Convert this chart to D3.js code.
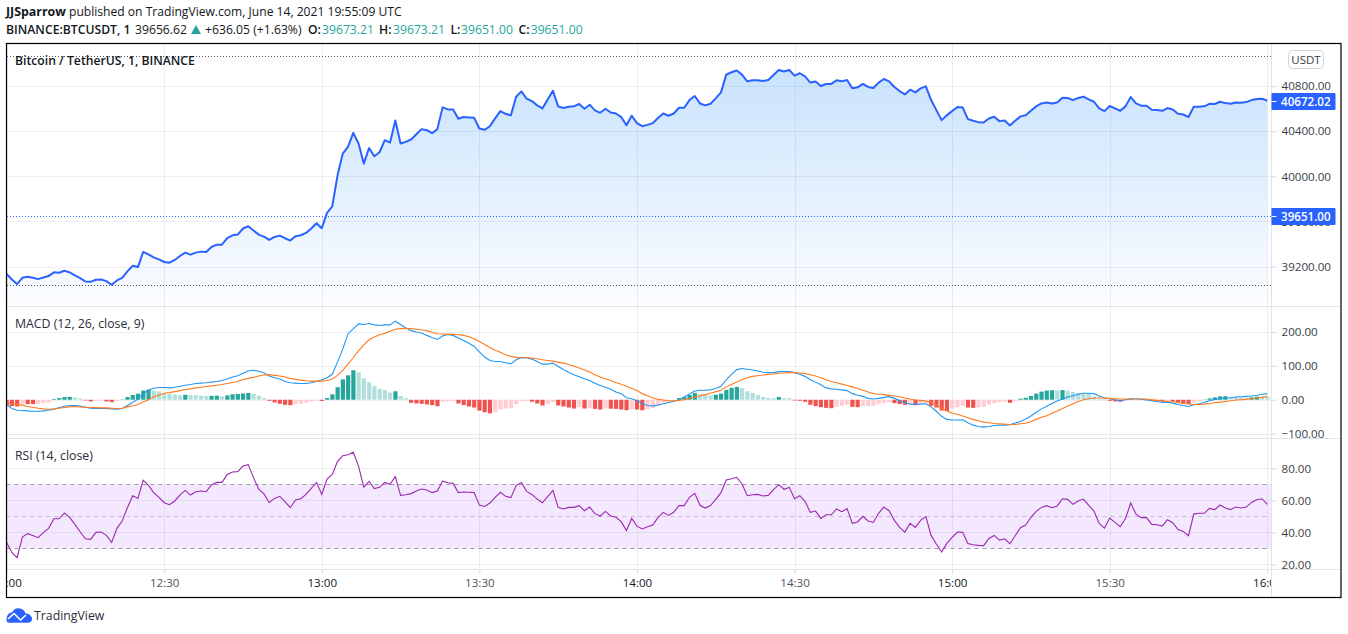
<!DOCTYPE html>
<meta charset="utf-8">
<style>
body { margin:0; background:white; font-family:"Open Sans",sans-serif; overflow:hidden; }
svg { display:block; }
text { font-family:"Open Sans",sans-serif; }
.tick text { fill:#3a3d46; font-size:11.6px; }
</style>
<script src="https://d3js.org/d3.v7.min.js"></script>
<div id="chart"></div>
<script>

// values, one per minute from 12:00 to 16:00
var price = [39133,39085,39044,39100,39109,39100,39088,39103,39115,39148,39145,39162,39148,39121,39097,39067,39064,39082,39085,39070,
39038,39076,39100,39157,39207,39195,39329,39308,39281,39263,39240,39234,39258,39293,39323,39305,39323,39332,39329,39373,
39394,39394,39451,39477,39483,39537,39557,39519,39483,39465,39436,39462,39474,39451,39430,39468,39477,39498,39537,39584,
39540,39676,39733,40009,40202,40264,40386,40291,40113,40252,40178,40214,40321,40300,40496,40291,40306,40327,40374,40419,
40410,40383,40419,40612,40594,40594,40511,40526,40523,40520,40425,40413,40445,40514,40579,40555,40541,40707,40754,40689,
40668,40630,40603,40683,40760,40621,40606,40618,40621,40642,40600,40636,40585,40564,40600,40567,40558,40526,40454,40538,
40472,40445,40457,40472,40517,40558,40538,40558,40609,40609,40677,40713,40647,40630,40644,40692,40745,40903,40924,40939,
40903,40843,40852,40852,40846,40855,40900,40944,40930,40944,40894,40915,40888,40832,40841,40802,40820,40820,40852,40843,
40855,40781,40790,40820,40793,40784,40832,40864,40843,40793,40757,40727,40769,40745,40781,40799,40677,40588,40499,40543,
40579,40615,40612,40508,40493,40481,40478,40514,40529,40490,40496,40451,40493,40532,40543,40582,40621,40647,40656,40647,
40656,40698,40695,40677,40695,40707,40683,40662,40603,40579,40624,40603,40582,40621,40704,40647,40627,40627,40591,40588,
40582,40606,40594,40555,40549,40526,40618,40618,40621,40644,40642,40662,40650,40644,40656,40653,40659,40677,40686,40689,
40672];

var macdLine = [-13,-26,-31,-32,-33,-34,-34,-33,-31,-28,-23,-19,-17,-17,-19,-22,-25,-26,-26,-26,
-27,-28,-26,-17,-8,2,18,28,34,36,36,35,37,40,43,45,48,49,50,52,
54,57,61,67,71,78,85,87,84,79,70,65,61,54,50,49,48,48,50,54,
59,65,75,111,150,195,209,224,222,225,221,219,221,221,232,222,212,204,200,197,
190,184,178,188,193,190,182,175,167,158,141,126,116,113,113,109,106,118,125,124,
120,113,105,105,108,98,89,81,74,68,62,57,49,42,37,31,23,18,6,3,
-3,-11,-17,-18,-16,-12,-8,-5,0,8,17,26,28,28,29,33,40,59,75,89,
92,90,88,85,81,80,80,83,83,83,80,75,69,59,52,44,35,32,31,29,
27,18,13,10,4,2,4,7,9,4,-2,-9,-13,-14,-13,-12,-21,-34,-49,-58,
-60,-60,-59,-68,-75,-79,-81,-79,-76,-75,-75,-74,-69,-64,-57,-48,-37,-27,-19,-11,
-4,2,8,12,16,19,19,18,11,5,3,0,-3,0,3,3,1,0,-3,-5,
-8,-7,-10,-14,-17,-20,-15,-12,-8,-3,1,3,5,6,8,9,10,11,13,16,
18];

var signalLine = [-9,-12,-14,-16,-20,-22,-25,-27,-28,-27,-25,-23,-21,-20,-21,-22,-23,-23,-24,-24,
-25,-26,-25,-21,-18,-14,-7,0,8,14,19,21,24,27,30,32,35,37,39,41,
43,45,48,51,54,60,63,66,70,73,74,72,70,67,63,60,58,56,55,55,
55,57,61,72,87,106,124,144,162,177,185,192,196,202,208,210,211,210,208,206,
204,199,195,194,193,193,192,190,186,180,172,163,154,146,140,133,128,125,124,124,
123,121,118,116,114,111,108,104,99,94,88,82,74,67,62,57,51,46,40,33,
27,18,12,5,1,-1,-3,-3,-2,0,3,8,12,15,19,24,28,38,45,52,
60,65,69,71,73,75,76,78,79,80,80,79,77,74,70,65,59,54,50,46,
42,38,33,28,23,18,16,15,13,11,9,5,2,-1,-2,-4,-9,-16,-26,-33,
-40,-43,-48,-53,-58,-62,-66,-68,-70,-71,-72,-73,-73,-71,-69,-65,-58,-52,-47,-40,
-33,-26,-19,-12,-5,0,3,5,5,5,4,3,2,2,2,2,2,2,0,-2,
-3,-5,-6,-8,-11,-12,-14,-14,-13,-11,-9,-7,-5,-3,-1,0,1,3,5,7,
10];

var histogram = [-18,-19,-20,-13,-13,-13,-12,-10,-8,2,5,8,8.5,7,4,-2,-5,-3,-2.5,-5,
-7,-3,1,8,14,18,27,30,27,25,20,17,15,13.5,14.5,14,13,12,11,11.5,
12,10,13,16,17,18.5,20,17,12,5,-3,-8,-12,-15,-16,-13,-12,-9,-6,-3,
-3.5,5,16,37,60,72,87,81,63,52,40,32,29,21,25,11,5,-9,-11,-12,
-14,-16,-19,-6,-5,-4,-11,-16,-20,-23,-32,-37,-40,-37,-28,-26,-25,-13,-5,-4,
-6,-11,-17,-12,-7,-17,-20,-23,-26,-22,-26,-25,-27,-29,-26,-26.5,-27,-29,-31,-28,
-29,-31,-28,-24,-16,-9,-5,-1.5,5,8,14,20,16,15,13,15,18,29,35,38,
35,25,20,14,8,5,4.5,8,5,4.5,-2,-3,-6,-15,-19,-22,-24,-25,-21,-18,
-15,-21,-22,-19,-18.5,-18,-13,-10,-8,-10,-13,-15,-13,-16,-12,-11,-18,-23,-32,-33,
-26,-22,-18,-23,-24,-23,-21,-14,-10,-7,-6.5,-9,-5,3,6,11,18,24,27,28,
27.5,28.5,27,23,20,19,18,10,3,-1,-3,-5,-6,-3,2,1,0.5,-2,-4,-5,
-5.5,-4,-4.5,-8,-10,-13,-9,-4,1,4,7,10,10.5,8,7.5,7,6,7,9,8.5,
8];

var rsi = [33.7,27.5,24.2,37.1,39.2,38.1,36.7,39.8,42.5,48.5,48.5,52.1,49.4,45,40.4,36,35.6,40,40.2,38.1,
33.7,42.5,47.1,55.4,62.9,61.2,72.5,69.4,64.8,61.9,58.5,57.3,59.6,63.3,66.2,63.3,65.4,65.8,65.4,69.6,
71.2,71.2,76.2,77.7,77.9,81.4,82.3,74.2,66.9,64,58.7,61.2,62.5,59.2,55.4,60.2,61,63.7,67.5,71.2,
63.7,73.3,76.2,84.4,87.9,88.5,90,81.4,68.3,71.9,67.3,68.1,71.2,70,74.8,63.1,63.5,64.2,65.8,67.1,
66.4,64.8,65.8,72,71,70.6,64.8,65.2,65,64.8,57,56.2,58.3,61.9,65,62.5,61.7,69.2,71.2,65.6,
63.7,60.8,58.5,62.3,66.2,55.6,54.6,55.6,55.6,56.7,53.5,55.8,51.7,50.2,53.1,50.2,49.4,46.7,41.2,48.7,
43.9,42.1,43.5,44.6,49.2,52.5,50.6,52.5,56.7,56.7,61.9,64.4,56.9,55.2,56.7,60.6,64.8,72.7,73.5,74.4,
70.2,62.9,63.5,63.7,62.7,63.1,66.7,69.8,66.9,68.1,61,62.9,59.4,52.5,53.3,48.7,51,51,54.6,52.9,
54.8,45.6,46.5,50,47.1,46.2,51.9,55.8,53.5,47.5,43.1,40.2,45.6,43.1,47.5,49.8,38.1,32.7,27.7,33.1,
36.9,40.2,40,33.1,32.3,31.9,31.7,36.2,38.1,35.2,36,32.9,37.9,42.9,44.6,49.4,53.1,55.6,56.7,55.4,
56.5,61,60.6,57.5,59.6,60.8,56.9,53.3,45.6,42.7,48.9,46.2,43.5,48.7,58.3,51.4,49.2,49.2,45,44.8,
43.9,47.9,46,41.7,40.6,37.9,51.4,51.9,51.9,55,54.2,57.1,55.2,54.2,55.8,55.2,55.8,58.7,60.4,61,
57.5];

// tick labels and reference levels
var priceTicks = [39200, 39600, 40000, 40400, 40800];
var macdTicks = [-100, 0, 100, 200];
var rsiTicks = [20, 40, 60, 80];
var rsiLevels = [30, 50, 70];
var lastPrice = 40672.02, closeLevel = 39651, highLevel = 41068, lowLevel = 39040;
var firstMinute = new Date(2021, 5, 14, 12, 0);
var timeTicks = d3.timeMinute.range(firstMinute, new Date(2021, 5, 14, 16, 1), 30);
var minutes = price.map(function(d, i) { return d3.timeMinute.offset(firstMinute, i); });

// pane geometry
var left = 6.5, right = 1341, top_ = 43.5, bottom = 597.5, axisX = 1271.5, timeY = 569.5;
var gridColor = "rgba(120,123,150,0.13)";
var svg = d3.select("#chart").append("svg").attr("width", 1348).attr("height", 634);

var x = d3.scaleTime().domain([firstMinute, new Date(2021, 5, 14, 16, 0)]).range([6.6, 1267.3]);
var yPrice = d3.scaleLinear().domain([39200, 40800]).range([266.5, 86.2]);
var yMacd = d3.scaleLinear().domain([-100, 200]).range([433.6, 332]);
var yRsi = d3.scaleLinear().domain([20, 80]).range([564.4, 468.3]);

var defs = svg.append("defs");
defs.append("clipPath").attr("id", "plotClip").append("rect")
  .attr("x", left).attr("y", top_).attr("width", axisX - left).attr("height", bottom - top_);
var grad = defs.append("linearGradient").attr("id", "areaFill")
  .attr("gradientUnits", "userSpaceOnUse").attr("x1", 0).attr("x2", 0).attr("y1", 70).attr("y2", 306);
grad.append("stop").attr("offset", 0).attr("stop-color", "#2188f5").attr("stop-opacity", 0.24);
grad.append("stop").attr("offset", 1).attr("stop-color", "#2188f5").attr("stop-opacity", 0.015);

var plot = svg.append("g").attr("clip-path", "url(#plotClip)");

// RSI band goes under the grid
plot.append("rect").attr("x", left).attr("width", axisX - left)
  .attr("y", yRsi(70)).attr("height", yRsi(30) - yRsi(70)).attr("fill", "#f4e8fe");

// vertical grid
plot.selectAll(".vgrid").data(timeTicks).enter().append("line")
  .attr("x1", function(d) { return Math.round(x(d)) + 0.5; })
  .attr("x2", function(d) { return Math.round(x(d)) + 0.5; })
  .attr("y1", top_).attr("y2", timeY)
  .attr("stroke", gridColor);

// right hand axes with their grid lines
function priceAxis(scale, ticks, name) {
  var g = svg.append("g").attr("class", name).attr("transform", "translate(" + axisX + ",0)")
    .call(d3.axisRight(scale).tickValues(ticks).tickSize(5).tickPadding(5)
      .tickFormat(function(d) { return d3.format(".2f")(d).replace("-", "\u2212"); }));
  g.select(".domain").remove();
  g.selectAll("line").attr("stroke", "#d5d8e0");
  plot.selectAll("." + name + "Grid").data(ticks).enter().append("line")
    .attr("x1", left).attr("x2", axisX)
    .attr("y1", function(d) { return Math.round(scale(d)) + 0.5; })
    .attr("y2", function(d) { return Math.round(scale(d)) + 0.5; })
    .attr("stroke", gridColor);
}
priceAxis(yPrice, priceTicks, "pa");
priceAxis(yMacd, macdTicks, "ma");
priceAxis(yRsi, rsiTicks, "ra");

// price pane
plot.append("path").datum(price).attr("fill", "url(#areaFill)")
  .attr("d", d3.area().x(function(d, i) { return x(minutes[i]); }).y0(306).y1(function(d) { return yPrice(d); }));
plot.append("path").datum(price).attr("fill", "none").attr("stroke", "#2962ff").attr("stroke-width", 2)
  .attr("stroke-linejoin", "round")
  .attr("d", d3.line().x(function(d, i) { return x(minutes[i]); }).y(function(d) { return yPrice(d); }));

[[highLevel, "#555862"], [lowLevel, "#555862"], [closeLevel, "#2962ff"]].forEach(function(l) {
  plot.append("line").attr("x1", left).attr("x2", axisX)
    .attr("y1", Math.round(yPrice(l[0])) + 0.5).attr("y2", Math.round(yPrice(l[0])) + 0.5)
    .attr("stroke", l[1]).attr("stroke-width", 1).attr("stroke-dasharray", "1,2")
    .attr("shape-rendering", "crispEdges");
});

// MACD pane, bar colour follows the direction of the histogram
plot.selectAll(".bar").data(histogram).enter().append("rect")
  .attr("x", function(d, i) { return x(minutes[i]) - 2; })
  .attr("width", 4.2)
  .attr("y", function(d) { return Math.min(yMacd(d), yMacd(0)); })
  .attr("height", function(d) { return Math.abs(yMacd(d) - yMacd(0)); })
  .attr("fill", function(d, i) {
    var rising = i > 0 && d > histogram[i - 1];
    if (d >= 0) return rising ? "#26a69a" : "#b2dfdb";
    return rising ? "#ffcdd2" : "#ef5350";
  });
[[macdLine, "#2196f3"], [signalLine, "#ff7a1f"]].forEach(function(s) {
  plot.append("path").datum(s[0]).attr("fill", "none").attr("stroke", s[1]).attr("stroke-width", 1.1)
    .attr("d", d3.line().x(function(d, i) { return x(minutes[i]); }).y(function(d) { return yMacd(d); }));
});

// RSI pane
rsiLevels.forEach(function(l) {
  plot.append("line").attr("x1", left).attr("x2", axisX)
    .attr("y1", Math.round(yRsi(l)) + 0.5).attr("y2", Math.round(yRsi(l)) + 0.5)
    .attr("stroke", "#787b86").attr("stroke-opacity", l == 50 ? 0.4 : 0.75).attr("stroke-dasharray", "4,4");
});
plot.append("path").datum(rsi).attr("fill", "none").attr("stroke", "#9c27b0").attr("stroke-width", 1.1)
  .attr("d", d3.line().x(function(d, i) { return x(minutes[i]); }).y(function(d) { return yRsi(d); }));

// time axis, the labels at both ends get cut by the pane
var timeAxis = plot.append("g").attr("transform", "translate(0," + timeY + ")")
  .call(d3.axisBottom(x).tickValues(timeTicks).tickSize(4).tickPadding(5).tickFormat(d3.timeFormat("%H:%M")));
timeAxis.select(".domain").remove();
timeAxis.selectAll("line").attr("stroke", "#d5d8e0");
timeAxis.selectAll("text").style("fill", function(d) { return d.getMinutes() == 0 ? "#131722" : "#50535e"; });

// pane separators and frame
svg.append("line").attr("x1", left).attr("x2", right).attr("y1", 306.5).attr("y2", 306.5).attr("stroke", "#e0e3eb");
svg.append("line").attr("x1", left).attr("x2", right).attr("y1", 438.5).attr("y2", 438.5).attr("stroke", "#e0e3eb");
svg.append("line").attr("x1", left).attr("x2", right).attr("y1", timeY).attr("y2", timeY).attr("stroke", "#e0e3eb");
svg.append("line").attr("x1", axisX).attr("x2", axisX).attr("y1", top_).attr("y2", bottom).attr("stroke", "#e0e3eb");
svg.append("rect").attr("x", left).attr("y", top_).attr("width", right - left).attr("height", bottom - top_)
  .attr("fill", "none").attr("stroke", "#000").attr("stroke-width", 1.2);

// price tags
[[lastPrice, d3.format(".2f")(lastPrice)], [closeLevel, d3.format(".2f")(closeLevel)]].forEach(function(t) {
  var cy = Math.round(yPrice(t[0])) + 0.5;
  svg.append("path").attr("fill", "#2962ff")
    .attr("d", "M" + axisX + "," + (cy - 8.5) + "h63a1,1 0 0 1 1,1v15a1,1 0 0 1 -1,1h-63z");
  svg.append("line").attr("x1", axisX).attr("x2", axisX + 5).attr("y1", cy).attr("y2", cy).attr("stroke", "#fff");
  svg.append("text").attr("x", 1281).attr("y", cy).attr("dy", "0.35em").attr("fill", "#fff")
    .attr("font-size", 11.6).attr("font-weight", 600).text(t[1]);
});

// currency button
svg.append("rect").attr("x", 1288.5).attr("y", 50.5).attr("width", 35).attr("height", 18).attr("rx", 4)
  .attr("fill", "#fff").attr("stroke", "#d1d4dc");
svg.append("text").attr("x", 1306).attr("y", 59.5).attr("dy", "0.35em").attr("text-anchor", "middle")
  .attr("font-size", 11.5).attr("fill", "#3a3d46").text("USDT");

// legends
function label(txt, px, py, size, weight, color) {
  return svg.append("text").attr("x", px).attr("y", py).attr("dy", "0.35em")
    .attr("font-size", size).attr("font-weight", weight || 400).attr("fill", color || "#131722").text(txt);
}
label("Bitcoin / TetherUS, 1, BINANCE", 15, 60.5, 12.2, 600);
label("MACD (12, 26, close, 9)", 15, 323.5, 12.3, 400, "#2a2e39");
label("RSI (14, close)", 15, 455.5, 12.3, 400, "#2a2e39");

// header lines
label("JJSparrow", 6, 12, 12.4, 700);
label("published on TradingView.com, June 14, 2021 19:55:09 UTC", 69, 12, 12.1, 400);
label("BINANCE:BTCUSDT, 1", 6, 29.5, 12.2, 600);
label("39656.62", 135, 29.5, 12.2, 400);
svg.append("path").attr("fill", "#26a69a").attr("d", d3.line()([[191, 34], [196, 25], [201, 34]]) + "Z");
label("+636.05 (+1.63%)", 205, 29.5, 12.2, 400);
[["O:", 308, "39673.21", 322], ["H:", 379, "39673.21", 393], ["L:", 450.5, "39651.00", 461], ["C:", 518.5, "39651.00", 530.7]].forEach(function(o) {
  label(o[0], o[1], 29.5, 12.2, 600);
  label(o[2], o[3], 29.5, 12.2, 400, "#26a69a");
});

// logo
svg.append("path").attr("fill", "#2962ff")
  .attr("d", "M6.5,620C6.5,615 9,612.5 12,612.5C13.5,609 17,607.5 20,608.5C23,609 25,611 25.5,613.5C29.5,613.5 32,616 32,619C32,621.5 30,622.8 28,622.8L9,622.8C7.5,622.8 6.5,621.5 6.5,620Z");
svg.append("path").attr("fill", "none").attr("stroke", "#fff").attr("stroke-width", 1.6)
  .attr("d", "M8,619L14,613.5L20.5,620L26,615");
label("TradingView", 34, 616, 12.3, 400, "#2a2e39");

</script>
